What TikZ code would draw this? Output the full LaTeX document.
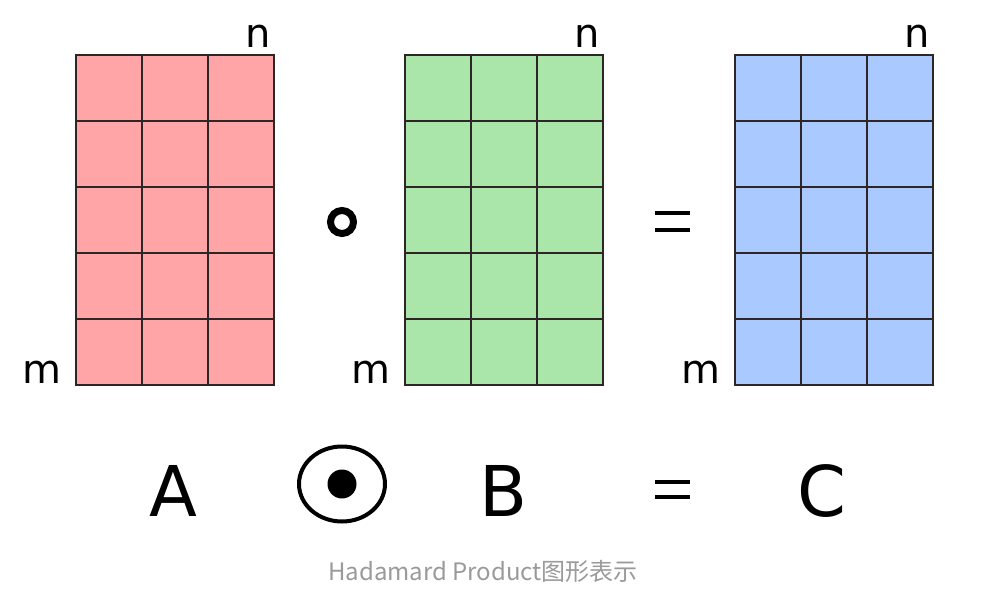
\documentclass[tikz,border=0pt]{standalone}
\usepackage{fontspec}
\setmainfont{DejaVu Sans}
\newfontfamily\cjk{Noto Sans CJK SC}
\definecolor{mred}{HTML}{FFA5A8}
\definecolor{mgreen}{HTML}{AAE5A9}
\definecolor{mblue}{HTML}{A9C9FF}
\definecolor{gridc}{HTML}{2E2626}
\definecolor{capc}{HTML}{9A9A9A}
\begin{document}
\begin{tikzpicture}[x=1pt,y=-1pt,
  dimlbl/.style={inner sep=0pt,anchor=base,font=\fontsize{40}{40}\selectfont},
  biglbl/.style={inner sep=0pt,anchor=base,font=\fontsize{70}{70}\selectfont},
  gridline/.style={draw=gridc,line width=2pt},
]
\useasboundingbox[fill=white] (0,0) rectangle (989,608);
% matrices
\foreach \x/\c/\nm in {76/mred/A,405/mgreen/B,735/mblue/C}{
  \fill[\c] (\x,55) rectangle ++(198,330);
  \foreach \i in {1,2}{\draw[gridline] (\x+66*\i,55) -- (\x+66*\i,385);}
  \foreach \j in {1,...,4}{\draw[gridline] (\x,55+66*\j) -- (\x+198,55+66*\j);}
  \draw[gridline] (\x,55) rectangle ++(198,330);
  \node[dimlbl] (n\nm) at (\x+182.5,47) {n};
  \node[dimlbl] (m\nm) at (\x-34,383) {m};
}
% top operators
\draw[line width=7pt] (342,222) circle (11.5);
\coordinate (circop) at (342,222);
\draw[line width=4pt] (655,213) -- (690,213);
\draw[line width=4pt] (655,230) -- (690,230);
% bottom row
\node[biglbl] (lA) at (173,516) {A};
\draw[line width=4pt] (342,484) ellipse (43 and 37.5);
\fill (342,484) circle (14.5);
\coordinate (odot) at (342,484);
\node[biglbl] (lB) at (504,516) {B};
\draw[line width=4pt] (655,482) -- (690,482);
\draw[line width=4pt] (655,497) -- (690,497);
\node[biglbl] (lC) at (822,516) {C};
% caption
\node[inner sep=0pt,anchor=base,text=capc,font=\cjk\fontsize{24}{24}\selectfont] (cap) at (483,580) {Hadamard Product图形表示};
\end{tikzpicture}
\end{document}
